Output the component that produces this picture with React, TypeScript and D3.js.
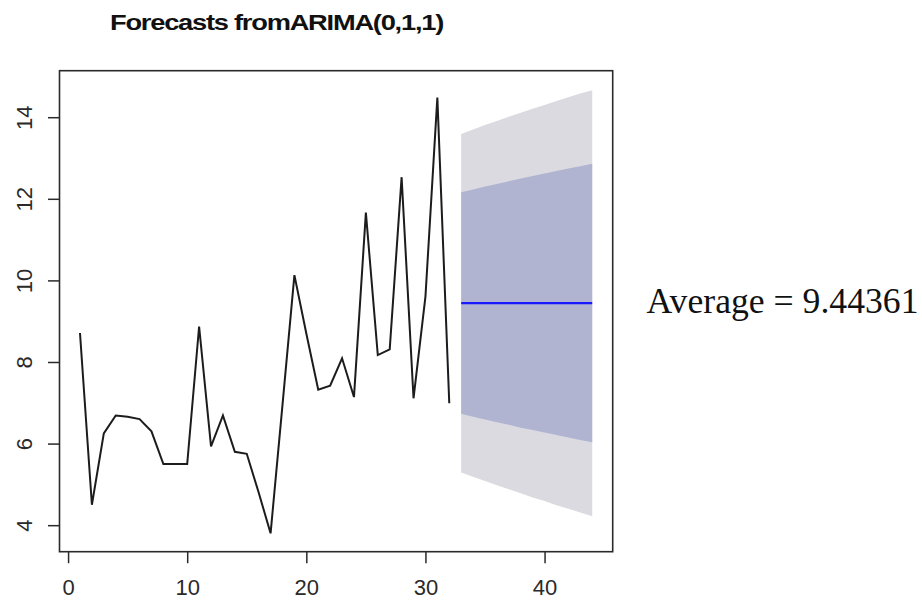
import React, { useEffect, useRef } from 'react';
import * as d3 from 'd3';

// observed series (time 1..32)
const obsTime = [1, 2, 3, 4, 5, 6, 7, 8, 9, 10, 11, 12, 13, 14, 15, 16, 17, 18, 19, 20, 21, 22, 23, 24, 25, 26, 27, 28, 29, 30, 31, 32];
const obsValue = [8.71, 4.5, 6.25, 6.69, 6.66, 6.6, 6.3, 5.5, 5.5, 5.5, 8.87, 5.93, 6.69, 5.8, 5.75, 4.8, 3.8, 6.95, 10.13, 8.7, 7.32, 7.42, 8.09, 7.14, 11.66, 8.17, 8.31, 12.53, 7.11, 9.6, 14.48, 6.99];

// forecast horizon (time 33..44)
const fcTime = [33, 34, 35, 36, 37, 38, 39, 40, 41, 42, 43, 44];
const fcMean = [9.4436, 9.4436, 9.4436, 9.4436, 9.4436, 9.4436, 9.4436, 9.4436, 9.4436, 9.4436, 9.4436, 9.4436];
const lo80 = [6.73, 6.66, 6.59, 6.52, 6.46, 6.39, 6.33, 6.27, 6.21, 6.15, 6.09, 6.03];
const hi80 = [12.16, 12.23, 12.3, 12.36, 12.43, 12.5, 12.56, 12.62, 12.68, 12.74, 12.8, 12.86];
const lo95 = [5.29, 5.19, 5.08, 4.98, 4.88, 4.78, 4.68, 4.59, 4.49, 4.4, 4.31, 4.22];
const hi95 = [13.59, 13.7, 13.81, 13.91, 14.01, 14.11, 14.21, 14.3, 14.4, 14.49, 14.58, 14.66];

const xTicks = [0, 10, 20, 30, 40];
const yTicks = [4, 6, 8, 10, 12, 14];
const xLim = [-0.72, 45.72];
const yLim = [3.35, 15.14];

const titleText = 'Forecasts fromARIMA(0,1,1)';
const noteText = 'Average = 9.44361';

export default function App() {
  const svgRef = useRef<SVGSVGElement>(null);

  useEffect(() => {
    const W = 922;
    const H = 600;
    const box = { left: 59.5, right: 612.7, top: 70.7, bottom: 551.7 };

    const svg = d3.select(svgRef.current);
    svg.selectAll('*').remove();
    svg.attr('width', W).attr('height', H);

    svg.append('rect').attr('width', W).attr('height', H).attr('fill', '#ffffff');

    const x = d3.scaleLinear().domain(xLim).range([box.left, box.right]);
    const y = d3.scaleLinear().domain(yLim).range([box.bottom, box.top]);

    const fc = fcTime.map((t, i) => ({ t, mean: fcMean[i], lo80: lo80[i], hi80: hi80[i], lo95: lo95[i], hi95: hi95[i] }));
    const obs = obsTime.map((t, i) => ({ t, v: obsValue[i] }));

    // 95% band
    svg.append('path')
      .datum(fc)
      .attr('fill', '#dadae0')
      .attr('d', d3.area<any>().x(d => x(d.t)).y0(d => y(d.lo95)).y1(d => y(d.hi95)));

    // 80% band
    svg.append('path')
      .datum(fc)
      .attr('fill', '#b0b4d1')
      .attr('d', d3.area<any>().x(d => x(d.t)).y0(d => y(d.lo80)).y1(d => y(d.hi80)));

    // point forecast
    svg.append('path')
      .datum(fc)
      .attr('fill', 'none')
      .attr('stroke', '#1a1aff')
      .attr('stroke-width', 2.2)
      .attr('d', d3.line<any>().x(d => x(d.t)).y(d => y(d.mean)));

    // observed series
    svg.append('path')
      .datum(obs)
      .attr('fill', 'none')
      .attr('stroke', '#1c1c1c')
      .attr('stroke-width', 2)
      .attr('d', d3.line<any>().x(d => x(d.t)).y(d => y(d.v)));

    // axes
    const font = "'Liberation Sans', Arial, sans-serif";

    const xAxisG = svg.append('g')
      .attr('transform', `translate(0,${box.bottom})`)
      .call(d3.axisBottom(x).tickValues(xTicks).tickSize(11.5).tickPadding(16.5).tickSizeOuter(0));
    xAxisG.select('.domain').remove();
    xAxisG.selectAll('line').attr('stroke', '#2a2a2a').attr('stroke-width', 1.5);
    xAxisG.selectAll('text')
      .attr('font-family', font)
      .attr('font-size', 22)
      .attr('fill', '#2a2a2a');

    const yAxisG = svg.append('g')
      .attr('transform', `translate(${box.left},0)`)
      .call(d3.axisLeft(y).tickValues(yTicks).tickSize(11.5).tickSizeOuter(0));
    yAxisG.select('.domain').remove();
    yAxisG.selectAll('line').attr('stroke', '#2a2a2a').attr('stroke-width', 1.5);
    yAxisG.selectAll('text')
      .attr('transform', 'rotate(-90)')
      .attr('x', 0)
      .attr('y', -27.5)
      .attr('dy', 0)
      .attr('text-anchor', 'middle')
      .attr('font-family', font)
      .attr('font-size', 22)
      .attr('fill', '#2a2a2a');

    // plot box
    svg.append('rect')
      .attr('x', box.left)
      .attr('y', box.top)
      .attr('width', box.right - box.left)
      .attr('height', box.bottom - box.top)
      .attr('fill', 'none')
      .attr('stroke', '#2a2a2a')
      .attr('stroke-width', 1.6);

    // title (squeezed, like the reference)
    svg.append('text')
      .attr('x', 110)
      .attr('y', 30)
      .attr('font-family', font)
      .attr('font-weight', 'bold')
      .attr('font-size', 22)
      .attr('letter-spacing', -1)
      .attr('textLength', 333)
      .attr('lengthAdjust', 'spacingAndGlyphs')
      .attr('fill', '#111')
      .text(titleText);

    // side note
    svg.append('text')
      .attr('x', 646.5)
      .attr('y', 313.3)
      .attr('font-family', "'Liberation Serif', 'Times New Roman', serif")
      .attr('font-size', 35)
      .attr('textLength', 272)
      .attr('lengthAdjust', 'spacingAndGlyphs')
      .attr('fill', '#111')
      .text(noteText);
  }, []);

  return (
    <div style={{ position: 'absolute', left: 0, top: 0, width: 922, height: 600, background: '#fff' }}>
      <svg ref={svgRef} style={{ display: 'block' }}></svg>
    </div>
  );
}
